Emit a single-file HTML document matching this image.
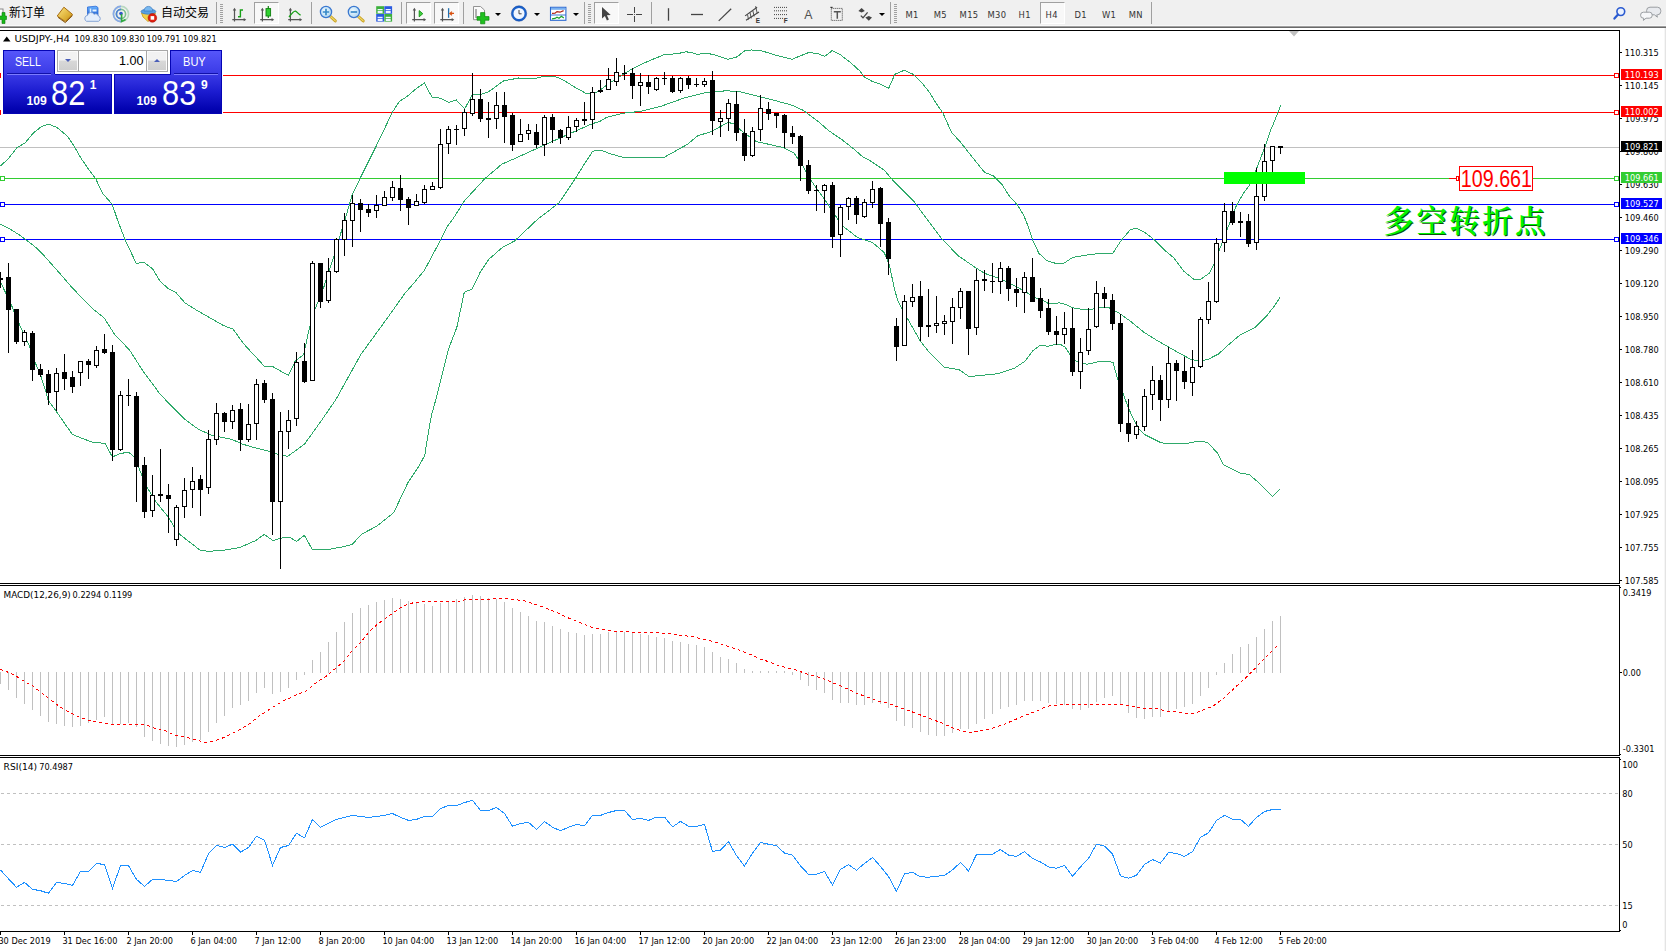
<!DOCTYPE html>
<html><head><meta charset="utf-8"><title>USDJPY H4</title><style>
html,body{margin:0;padding:0;background:#fff}
body{width:1666px;height:951px;overflow:hidden;position:relative;font-family:"Liberation Sans","Noto Sans CJK SC",sans-serif}
#tb{position:absolute;left:0;top:0;width:1666px;height:25px;background:#f0f0f0}
#tb1{position:absolute;left:0;top:25px;width:1666px;height:1px;background:#f8f8f8}
#tb2{position:absolute;left:0;top:26px;width:1666px;height:1px;background:#a0a0a0}
#tb3{position:absolute;left:0;top:27px;width:1666px;height:1px;background:#696969}
.sep{position:absolute;top:2px;width:1px;height:22px;background:#a0a0a0}
.grip{position:absolute;top:4px;width:3px;height:19px;background:repeating-linear-gradient(#a0a0a0 0 1px,#f0f0f0 1px 2px)}
.sel{position:absolute;top:2px;height:22px;border:1px solid #a0a0a0;border-right-color:#fff;border-bottom-color:#fff;background:#f8f8f8;box-sizing:border-box}
.tf{position:absolute;top:10px;font-size:9.3px;color:#333;line-height:10px;white-space:nowrap;letter-spacing:.35px;font-family:"DejaVu Sans Condensed","Liberation Sans",sans-serif}
.cj{position:absolute;top:5px;font-size:12px;line-height:16px;color:#000;white-space:nowrap;font-family:"Liberation Sans","Noto Sans CJK SC",sans-serif}
.ic{position:absolute;top:5px;width:16px;height:16px}
.dd{position:absolute;top:13px;width:0;height:0;border-left:3px solid transparent;border-right:3px solid transparent;border-top:3px solid #000}
.tp{position:absolute;color:#fff}
</style></head><body>
<svg width="1666" height="951" viewBox="0 0 1666 951" style="position:absolute;left:0;top:0" shape-rendering="crispEdges">
<defs><clipPath id="cm"><rect x="0" y="31" width="1619" height="552"/></clipPath></defs>
<rect x="0" y="30" width="1620" height="1" fill="#000" />
<rect x="1619" y="30" width="1" height="554" fill="#000"/>
<rect x="1619" y="585" width="1" height="171" fill="#000"/>
<rect x="1619" y="757" width="1" height="175" fill="#000"/>
<rect x="1620" y="587" width="1" height="1" fill="#000"/>
<rect x="1620" y="754" width="1" height="1" fill="#000"/>
<rect x="1620" y="759" width="1" height="1" fill="#000"/>
<rect x="1665" y="28" width="1" height="923" fill="#e4e4e4"/>
<rect x="1664" y="28" width="1" height="923" fill="#f6f6f6"/>
<rect x="1620" y="930" width="1" height="1" fill="#000"/>
<rect x="0" y="583" width="1620" height="1" fill="#000" />
<rect x="0" y="585" width="1620" height="1" fill="#000" />
<rect x="0" y="755" width="1620" height="1" fill="#000" />
<rect x="0" y="757" width="1620" height="1" fill="#000" />
<rect x="0" y="931" width="1620" height="1" fill="#000" />
<polygon points="1289,31 1299,31 1294,36.5" fill="#c0c0c0" shape-rendering="auto"/>
<rect x="0" y="147" width="1619" height="1" fill="#c0c0c0" />
<rect x="0" y="75" width="1615" height="1" fill="#ff0000" />
<rect x="1614.5" y="73.5" width="4" height="4" fill="#fff" stroke="#ff0000" stroke-width="1"/>
<rect x="0" y="73" width="2" height="5" fill="#ff0000"/>
<rect x="0" y="112" width="1615" height="1" fill="#ff0000" />
<rect x="1614.5" y="110.5" width="4" height="4" fill="#fff" stroke="#ff0000" stroke-width="1"/>
<rect x="0" y="110" width="2" height="5" fill="#ff0000"/>
<rect x="0" y="178" width="1449" height="1" fill="#32cd32" />
<rect x="1533" y="178" width="82" height="1" fill="#32cd32" />
<rect x="1614.5" y="176.5" width="4" height="4" fill="#fff" stroke="#32cd32" stroke-width="1"/>
<rect x="0.5" y="176.5" width="4" height="4" fill="#fff" stroke="#32cd32" stroke-width="1"/>
<rect x="0" y="204" width="1615" height="1" fill="#0000ff" />
<rect x="1614.5" y="202.5" width="4" height="4" fill="#fff" stroke="#0000ff" stroke-width="1"/>
<rect x="0.5" y="202.5" width="4" height="4" fill="#fff" stroke="#0000ff" stroke-width="1"/>
<rect x="0" y="239" width="1615" height="1" fill="#0000ff" />
<rect x="1614.5" y="237.5" width="4" height="4" fill="#fff" stroke="#0000ff" stroke-width="1"/>
<rect x="0.5" y="237.5" width="4" height="4" fill="#fff" stroke="#0000ff" stroke-width="1"/>
<g clip-path="url(#cm)">
<polyline points="0.0,166.3 8.4,158.7 16.8,147.8 25.2,142.7 33.7,132.6 42.0,126.2 48.8,124.2 57.2,127.6 67.3,136.0 74.0,146.1 80.8,157.9 89.0,170.0 95.7,178.7 102.5,193.2 112.2,204.3 117.0,218.4 124.8,239.1 129.6,249.3 136.3,263.5 143.9,262.1 153.1,269.4 159.9,281.1 168.3,288.7 175.8,292.4 185.1,303.0 198.6,311.4 223.8,325.7 233.0,329.1 244.0,344.2 264.2,366.1 272.6,366.4 280.0,370.8 288.5,375.1 295.2,361.2 303.7,354.4 309.5,327.5 315.1,309.0 323.8,287.1 329.2,270.3 333.9,256.0 341.3,231.6 345.2,219.0 352.0,195.5 360.4,177.8 375.5,147.5 392.4,112.2 399.3,101.4 407.0,96.6 414.7,89.8 424.3,83.0 431.9,97.0 441.2,98.4 448.7,102.4 456.3,100.0 464.7,108.8 472.3,95.0 481.5,94.2 488.3,92.0 503.4,81.0 518.6,78.0 535.4,78.5 545.5,76.0 553.9,76.0 562.3,79.4 575.8,87.8 585.9,93.3 592.6,94.2 600.0,90.3 608.5,83.7 632.9,68.4 647.1,61.7 663.5,54.9 677.8,53.6 685.9,51.8 692.0,52.6 697.1,54.3 707.3,53.3 715.5,55.1 727.8,59.4 736.9,56.9 744.8,50.8 751.5,50.0 761.6,50.8 775.1,55.0 791.9,59.3 808.7,52.5 817.2,53.4 824.7,56.4 832.3,50.5 840.7,55.0 850.0,62.1 859.7,70.8 864.5,77.1 872.2,81.4 880.9,84.3 888.7,88.2 895.0,74.2 904.2,70.3 912.9,74.2 921.6,82.4 929.3,92.1 936.1,103.2 942.8,112.9 951.5,132.2 959.8,141.4 982.6,170.0 985.1,172.5 993.5,175.9 1001.9,184.3 1008.6,195.2 1017.1,204.5 1023.8,215.4 1028.8,228.1 1033.0,240.7 1038.9,253.3 1047.3,260.9 1055.8,263.4 1064.2,263.1 1072.6,257.5 1080.0,256.2 1090.0,254.5 1100.0,253.5 1112.6,253.5 1121.9,239.5 1130.3,229.7 1136.2,228.2 1145.4,232.8 1153.9,239.5 1164.0,249.6 1174.0,258.0 1184.1,271.5 1193.4,279.0 1201.0,279.0 1209.4,273.1 1214.4,263.1 1219.5,249.6 1227.9,227.7 1236.3,205.8 1243.0,194.0 1249.8,184.8 1256.5,168.8 1264.9,146.9 1270.0,131.8 1275.0,120.0 1280.6,105.5" fill="none" stroke="#2eaa6a" stroke-width="1" />
<polyline points="0.0,224.2 9.7,229.0 19.3,234.8 27.1,240.6 35.8,247.4 42.6,254.1 55.5,268.5 72.4,287.9 91.7,308.0 104.3,318.1 114.4,334.1 129.6,350.1 143.0,371.2 159.9,393.9 165.7,400.0 175.0,409.3 185.0,419.4 198.6,429.4 212.0,435.3 232.2,439.5 242.3,444.1 255.8,448.0 269.2,451.3 275.0,453.5 280.0,454.7 287.7,456.4 304.5,444.1 320.5,421.9 335.6,400.0 360.9,354.4 387.8,317.4 404.6,293.8 415.3,281.4 424.4,270.3 440.9,239.5 447.7,225.8 452.9,219.0 462.2,204.5 464.7,200.5 484.9,178.6 501.7,164.3 518.6,156.8 543.8,145.3 569.0,134.0 592.6,123.6 600.0,121.4 606.8,117.3 623.7,113.1 640.5,111.4 660.7,106.4 684.2,98.0 704.4,92.9 724.6,90.9 738.1,91.2 751.5,94.6 771.7,99.6 791.9,105.2 803.7,110.6 817.2,120.7 828.9,130.8 842.4,140.0 854.2,149.3 862.6,156.8 870.0,160.7 884.1,170.0 894.2,181.8 901.0,188.5 914.4,202.0 927.9,220.5 941.3,238.1 958.2,255.8 976.7,268.4 985.1,273.5 1001.9,279.4 1015.4,286.1 1028.8,293.7 1038.9,299.6 1044.0,301.0 1049.0,303.8 1059.1,302.9 1065.1,304.2 1073.5,308.0 1086.9,310.0 1098.7,308.0 1108.8,307.6 1118.9,313.0 1130.7,321.4 1144.1,332.4 1157.6,340.8 1169.4,347.5 1181.2,354.2 1191.3,359.6 1199.7,361.0 1208.1,359.3 1218.2,354.2 1228.3,345.0 1240.1,334.9 1255.2,327.3 1267.0,315.5 1275.4,304.6 1280.1,297.0" fill="none" stroke="#2eaa6a" stroke-width="1" />
<polyline points="0.0,281.1 10.9,303.8 18.5,322.4 29.4,345.9 35.3,362.7 41.2,377.0 46.3,393.0 48.0,400.0 56.0,411.0 72.4,434.5 91.7,442.0 105.0,443.4 112.4,456.9 120.3,453.5 128.7,452.2 134.6,457.2 141.3,474.0 148.0,489.0 156.5,502.6 168.3,517.0 174.2,527.0 180.0,534.6 200.2,550.3 208.6,551.4 227.2,549.8 240.0,547.4 255.8,540.5 264.3,534.4 272.8,540.5 284.2,537.4 289.8,537.4 296.5,541.5 304.4,535.3 312.2,549.3 329.3,549.3 345.0,546.4 352.4,544.2 361.7,534.1 376.8,526.2 393.7,512.7 408.0,482.4 418.1,467.3 424.8,455.5 427.3,438.7 431.5,415.1 435.7,400.0 448.4,349.4 456.8,327.5 464.3,292.2 471.9,289.1 480.3,272.0 488.7,259.4 502.2,247.6 514.8,240.8 537.9,219.0 558.9,203.0 575.8,177.8 584.2,164.3 592.6,151.4 596.7,150.5 601.8,150.6 611.9,154.3 623.7,157.4 664.0,157.4 674.1,151.8 687.6,144.2 697.7,135.8 711.2,131.6 728.0,122.4 734.7,124.0 741.4,130.8 756.6,141.7 768.4,144.2 783.5,147.6 793.6,152.6 802.0,164.4 810.1,179.3 825.2,200.3 842.1,225.5 857.2,237.3 872.4,242.4 884.1,252.4 889.2,264.2 894.2,287.8 897.5,300.0 901.9,308.4 910.3,323.6 920.4,341.2 930.5,353.8 943.9,367.0 959.1,369.8 969.2,376.6 981.0,375.4 997.8,373.7 1014.6,368.1 1024.7,361.4 1033.1,350.5 1039.9,345.4 1048.3,346.3 1056.7,344.1 1060.0,344.1 1065.0,347.0 1070.1,354.8 1076.0,361.0 1086.9,364.3 1098.7,361.7 1108.8,361.5 1113.0,362.5 1117.7,379.0 1124.0,396.0 1129.0,409.4 1135.8,423.7 1140.0,430.2 1144.4,434.5 1160.3,442.4 1165.1,443.4 1187.4,443.4 1196.1,441.5 1201.9,441.3 1207.7,442.7 1217.4,452.9 1223.7,465.0 1240.6,473.2 1249.3,474.6 1259.0,482.9 1272.5,496.4 1279.7,489.1" fill="none" stroke="#2eaa6a" stroke-width="1" />
</g>
<g clip-path="url(#cm)">
<rect x="0" y="272" width="1" height="16" fill="#000"/>
<rect x="-2" y="278" width="5" height="2" fill="#000"/>
<rect x="8" y="263" width="1" height="90" fill="#000"/>
<rect x="6" y="277" width="5" height="33" fill="#000"/>
<rect x="16" y="309" width="1" height="35" fill="#000"/>
<rect x="14" y="309" width="5" height="33" fill="#000"/>
<rect x="24" y="330" width="1" height="16" fill="#000"/>
<rect x="22" y="332" width="5" height="10" fill="#000"/>
<rect x="23" y="333" width="3" height="8" fill="#fff"/>
<rect x="32" y="331" width="1" height="50" fill="#000"/>
<rect x="30" y="333" width="5" height="37" fill="#000"/>
<rect x="40" y="364" width="1" height="13" fill="#000"/>
<rect x="38" y="369" width="5" height="6" fill="#000"/>
<rect x="48" y="370" width="1" height="35" fill="#000"/>
<rect x="46" y="374" width="5" height="19" fill="#000"/>
<rect x="56" y="368" width="1" height="43" fill="#000"/>
<rect x="54" y="373" width="5" height="19" fill="#000"/>
<rect x="55" y="374" width="3" height="17" fill="#fff"/>
<rect x="64" y="354" width="1" height="36" fill="#000"/>
<rect x="62" y="372" width="5" height="7" fill="#000"/>
<rect x="72" y="371" width="1" height="22" fill="#000"/>
<rect x="70" y="377" width="5" height="10" fill="#000"/>
<rect x="80" y="361" width="1" height="25" fill="#000"/>
<rect x="78" y="361" width="5" height="12" fill="#000"/>
<rect x="79" y="362" width="3" height="10" fill="#fff"/>
<rect x="88" y="359" width="1" height="20" fill="#000"/>
<rect x="86" y="361" width="5" height="4" fill="#000"/>
<rect x="96" y="346" width="1" height="22" fill="#000"/>
<rect x="94" y="350" width="5" height="16" fill="#000"/>
<rect x="95" y="351" width="3" height="14" fill="#fff"/>
<rect x="104" y="334" width="1" height="20" fill="#000"/>
<rect x="102" y="349" width="5" height="4" fill="#000"/>
<rect x="112" y="345" width="1" height="116" fill="#000"/>
<rect x="110" y="352" width="5" height="98" fill="#000"/>
<rect x="120" y="391" width="1" height="60" fill="#000"/>
<rect x="118" y="395" width="5" height="55" fill="#000"/>
<rect x="119" y="396" width="3" height="53" fill="#fff"/>
<rect x="128" y="379" width="1" height="27" fill="#000"/>
<rect x="126" y="395" width="5" height="1" fill="#000"/>
<rect x="136" y="392" width="1" height="110" fill="#000"/>
<rect x="134" y="396" width="5" height="71" fill="#000"/>
<rect x="144" y="457" width="1" height="61" fill="#000"/>
<rect x="142" y="465" width="5" height="47" fill="#000"/>
<rect x="152" y="475" width="1" height="42" fill="#000"/>
<rect x="150" y="495" width="5" height="16" fill="#000"/>
<rect x="151" y="496" width="3" height="14" fill="#fff"/>
<rect x="160" y="449" width="1" height="53" fill="#000"/>
<rect x="158" y="494" width="5" height="2" fill="#000"/>
<rect x="168" y="484" width="1" height="49" fill="#000"/>
<rect x="166" y="495" width="5" height="4" fill="#000"/>
<rect x="176" y="505" width="1" height="41" fill="#000"/>
<rect x="174" y="507" width="5" height="33" fill="#000"/>
<rect x="175" y="508" width="3" height="31" fill="#fff"/>
<rect x="184" y="478" width="1" height="40" fill="#000"/>
<rect x="182" y="490" width="5" height="17" fill="#000"/>
<rect x="183" y="491" width="3" height="15" fill="#fff"/>
<rect x="192" y="467" width="1" height="41" fill="#000"/>
<rect x="190" y="481" width="5" height="9" fill="#000"/>
<rect x="191" y="482" width="3" height="7" fill="#fff"/>
<rect x="200" y="475" width="1" height="41" fill="#000"/>
<rect x="198" y="479" width="5" height="11" fill="#000"/>
<rect x="208" y="430" width="1" height="64" fill="#000"/>
<rect x="206" y="439" width="5" height="49" fill="#000"/>
<rect x="207" y="440" width="3" height="47" fill="#fff"/>
<rect x="216" y="403" width="1" height="42" fill="#000"/>
<rect x="214" y="413" width="5" height="27" fill="#000"/>
<rect x="215" y="414" width="3" height="25" fill="#fff"/>
<rect x="224" y="412" width="1" height="20" fill="#000"/>
<rect x="222" y="413" width="5" height="9" fill="#000"/>
<rect x="232" y="405" width="1" height="24" fill="#000"/>
<rect x="230" y="410" width="5" height="12" fill="#000"/>
<rect x="231" y="411" width="3" height="10" fill="#fff"/>
<rect x="240" y="403" width="1" height="48" fill="#000"/>
<rect x="238" y="409" width="5" height="31" fill="#000"/>
<rect x="248" y="404" width="1" height="38" fill="#000"/>
<rect x="246" y="424" width="5" height="16" fill="#000"/>
<rect x="247" y="425" width="3" height="14" fill="#fff"/>
<rect x="256" y="379" width="1" height="61" fill="#000"/>
<rect x="254" y="384" width="5" height="40" fill="#000"/>
<rect x="255" y="385" width="3" height="38" fill="#fff"/>
<rect x="264" y="380" width="1" height="23" fill="#000"/>
<rect x="262" y="383" width="5" height="17" fill="#000"/>
<rect x="272" y="393" width="1" height="142" fill="#000"/>
<rect x="270" y="399" width="5" height="103" fill="#000"/>
<rect x="280" y="412" width="1" height="157" fill="#000"/>
<rect x="278" y="431" width="5" height="71" fill="#000"/>
<rect x="279" y="432" width="3" height="69" fill="#fff"/>
<rect x="288" y="410" width="1" height="39" fill="#000"/>
<rect x="286" y="420" width="5" height="12" fill="#000"/>
<rect x="287" y="421" width="3" height="10" fill="#fff"/>
<rect x="296" y="352" width="1" height="74" fill="#000"/>
<rect x="294" y="362" width="5" height="57" fill="#000"/>
<rect x="295" y="363" width="3" height="55" fill="#fff"/>
<rect x="304" y="343" width="1" height="40" fill="#000"/>
<rect x="302" y="361" width="5" height="21" fill="#000"/>
<rect x="312" y="261" width="1" height="120" fill="#000"/>
<rect x="310" y="263" width="5" height="118" fill="#000"/>
<rect x="311" y="264" width="3" height="116" fill="#fff"/>
<rect x="320" y="263" width="1" height="45" fill="#000"/>
<rect x="318" y="263" width="5" height="39" fill="#000"/>
<rect x="328" y="258" width="1" height="45" fill="#000"/>
<rect x="326" y="271" width="5" height="30" fill="#000"/>
<rect x="327" y="272" width="3" height="28" fill="#fff"/>
<rect x="336" y="238" width="1" height="35" fill="#000"/>
<rect x="334" y="239" width="5" height="33" fill="#000"/>
<rect x="335" y="240" width="3" height="31" fill="#fff"/>
<rect x="344" y="213" width="1" height="43" fill="#000"/>
<rect x="342" y="220" width="5" height="20" fill="#000"/>
<rect x="343" y="221" width="3" height="18" fill="#fff"/>
<rect x="352" y="195" width="1" height="52" fill="#000"/>
<rect x="350" y="203" width="5" height="18" fill="#000"/>
<rect x="351" y="204" width="3" height="16" fill="#fff"/>
<rect x="360" y="199" width="1" height="33" fill="#000"/>
<rect x="358" y="203" width="5" height="7" fill="#000"/>
<rect x="368" y="204" width="1" height="13" fill="#000"/>
<rect x="366" y="209" width="5" height="4" fill="#000"/>
<rect x="376" y="195" width="1" height="23" fill="#000"/>
<rect x="374" y="205" width="5" height="6" fill="#000"/>
<rect x="375" y="206" width="3" height="4" fill="#fff"/>
<rect x="384" y="191" width="1" height="15" fill="#000"/>
<rect x="382" y="197" width="5" height="9" fill="#000"/>
<rect x="383" y="198" width="3" height="7" fill="#fff"/>
<rect x="392" y="181" width="1" height="20" fill="#000"/>
<rect x="390" y="187" width="5" height="11" fill="#000"/>
<rect x="391" y="188" width="3" height="9" fill="#fff"/>
<rect x="400" y="175" width="1" height="36" fill="#000"/>
<rect x="398" y="188" width="5" height="12" fill="#000"/>
<rect x="408" y="197" width="1" height="28" fill="#000"/>
<rect x="406" y="199" width="5" height="9" fill="#000"/>
<rect x="416" y="194" width="1" height="12" fill="#000"/>
<rect x="414" y="201" width="5" height="5" fill="#000"/>
<rect x="415" y="202" width="3" height="3" fill="#fff"/>
<rect x="424" y="185" width="1" height="19" fill="#000"/>
<rect x="422" y="189" width="5" height="14" fill="#000"/>
<rect x="423" y="190" width="3" height="12" fill="#fff"/>
<rect x="432" y="182" width="1" height="8" fill="#000"/>
<rect x="430" y="186" width="5" height="4" fill="#000"/>
<rect x="431" y="187" width="3" height="2" fill="#fff"/>
<rect x="440" y="129" width="1" height="60" fill="#000"/>
<rect x="438" y="144" width="5" height="44" fill="#000"/>
<rect x="439" y="145" width="3" height="42" fill="#fff"/>
<rect x="448" y="126" width="1" height="28" fill="#000"/>
<rect x="446" y="129" width="5" height="15" fill="#000"/>
<rect x="447" y="130" width="3" height="13" fill="#fff"/>
<rect x="456" y="125" width="1" height="20" fill="#000"/>
<rect x="454" y="129" width="5" height="1" fill="#000"/>
<rect x="464" y="109" width="1" height="27" fill="#000"/>
<rect x="462" y="112" width="5" height="17" fill="#000"/>
<rect x="463" y="113" width="3" height="15" fill="#fff"/>
<rect x="472" y="73" width="1" height="43" fill="#000"/>
<rect x="470" y="99" width="5" height="15" fill="#000"/>
<rect x="471" y="100" width="3" height="13" fill="#fff"/>
<rect x="480" y="89" width="1" height="33" fill="#000"/>
<rect x="478" y="99" width="5" height="20" fill="#000"/>
<rect x="488" y="102" width="1" height="36" fill="#000"/>
<rect x="486" y="118" width="5" height="2" fill="#000"/>
<rect x="496" y="92" width="1" height="37" fill="#000"/>
<rect x="494" y="105" width="5" height="14" fill="#000"/>
<rect x="495" y="106" width="3" height="12" fill="#fff"/>
<rect x="504" y="92" width="1" height="51" fill="#000"/>
<rect x="502" y="105" width="5" height="12" fill="#000"/>
<rect x="512" y="113" width="1" height="38" fill="#000"/>
<rect x="510" y="115" width="5" height="30" fill="#000"/>
<rect x="520" y="119" width="1" height="23" fill="#000"/>
<rect x="518" y="134" width="5" height="8" fill="#000"/>
<rect x="519" y="135" width="3" height="6" fill="#fff"/>
<rect x="528" y="124" width="1" height="16" fill="#000"/>
<rect x="526" y="130" width="5" height="4" fill="#000"/>
<rect x="527" y="131" width="3" height="2" fill="#fff"/>
<rect x="536" y="124" width="1" height="24" fill="#000"/>
<rect x="534" y="132" width="5" height="13" fill="#000"/>
<rect x="544" y="115" width="1" height="41" fill="#000"/>
<rect x="542" y="117" width="5" height="28" fill="#000"/>
<rect x="543" y="118" width="3" height="26" fill="#fff"/>
<rect x="552" y="114" width="1" height="29" fill="#000"/>
<rect x="550" y="117" width="5" height="13" fill="#000"/>
<rect x="560" y="129" width="1" height="15" fill="#000"/>
<rect x="558" y="130" width="5" height="8" fill="#000"/>
<rect x="568" y="116" width="1" height="24" fill="#000"/>
<rect x="566" y="127" width="5" height="11" fill="#000"/>
<rect x="567" y="128" width="3" height="9" fill="#fff"/>
<rect x="576" y="118" width="1" height="14" fill="#000"/>
<rect x="574" y="120" width="5" height="7" fill="#000"/>
<rect x="575" y="121" width="3" height="5" fill="#fff"/>
<rect x="584" y="102" width="1" height="23" fill="#000"/>
<rect x="582" y="119" width="5" height="2" fill="#000"/>
<rect x="592" y="87" width="1" height="42" fill="#000"/>
<rect x="590" y="92" width="5" height="28" fill="#000"/>
<rect x="591" y="93" width="3" height="26" fill="#fff"/>
<rect x="600" y="80" width="1" height="13" fill="#000"/>
<rect x="598" y="90" width="5" height="2" fill="#000"/>
<rect x="608" y="68" width="1" height="22" fill="#000"/>
<rect x="606" y="79" width="5" height="11" fill="#000"/>
<rect x="607" y="80" width="3" height="9" fill="#fff"/>
<rect x="616" y="58" width="1" height="28" fill="#000"/>
<rect x="614" y="72" width="5" height="10" fill="#000"/>
<rect x="615" y="73" width="3" height="8" fill="#fff"/>
<rect x="624" y="65" width="1" height="15" fill="#000"/>
<rect x="622" y="73" width="5" height="1" fill="#000"/>
<rect x="632" y="68" width="1" height="31" fill="#000"/>
<rect x="630" y="73" width="5" height="13" fill="#000"/>
<rect x="640" y="73" width="1" height="33" fill="#000"/>
<rect x="638" y="82" width="5" height="4" fill="#000"/>
<rect x="639" y="83" width="3" height="2" fill="#fff"/>
<rect x="648" y="75" width="1" height="19" fill="#000"/>
<rect x="646" y="82" width="5" height="5" fill="#000"/>
<rect x="656" y="77" width="1" height="14" fill="#000"/>
<rect x="654" y="78" width="5" height="12" fill="#000"/>
<rect x="655" y="79" width="3" height="10" fill="#fff"/>
<rect x="664" y="72" width="1" height="13" fill="#000"/>
<rect x="662" y="78" width="5" height="1" fill="#000"/>
<rect x="672" y="76" width="1" height="17" fill="#000"/>
<rect x="670" y="78" width="5" height="14" fill="#000"/>
<rect x="680" y="77" width="1" height="16" fill="#000"/>
<rect x="678" y="78" width="5" height="13" fill="#000"/>
<rect x="679" y="79" width="3" height="11" fill="#fff"/>
<rect x="688" y="76" width="1" height="13" fill="#000"/>
<rect x="686" y="78" width="5" height="7" fill="#000"/>
<rect x="696" y="78" width="1" height="9" fill="#000"/>
<rect x="694" y="84" width="5" height="1" fill="#000"/>
<rect x="704" y="78" width="1" height="9" fill="#000"/>
<rect x="702" y="81" width="5" height="4" fill="#000"/>
<rect x="703" y="82" width="3" height="2" fill="#fff"/>
<rect x="712" y="71" width="1" height="64" fill="#000"/>
<rect x="710" y="80" width="5" height="41" fill="#000"/>
<rect x="720" y="110" width="1" height="27" fill="#000"/>
<rect x="718" y="118" width="5" height="4" fill="#000"/>
<rect x="719" y="119" width="3" height="2" fill="#fff"/>
<rect x="728" y="99" width="1" height="32" fill="#000"/>
<rect x="726" y="103" width="5" height="16" fill="#000"/>
<rect x="727" y="104" width="3" height="14" fill="#fff"/>
<rect x="736" y="91" width="1" height="50" fill="#000"/>
<rect x="734" y="104" width="5" height="29" fill="#000"/>
<rect x="744" y="119" width="1" height="42" fill="#000"/>
<rect x="742" y="133" width="5" height="23" fill="#000"/>
<rect x="752" y="127" width="1" height="30" fill="#000"/>
<rect x="750" y="131" width="5" height="25" fill="#000"/>
<rect x="751" y="132" width="3" height="23" fill="#fff"/>
<rect x="760" y="95" width="1" height="46" fill="#000"/>
<rect x="758" y="108" width="5" height="22" fill="#000"/>
<rect x="759" y="109" width="3" height="20" fill="#fff"/>
<rect x="768" y="102" width="1" height="18" fill="#000"/>
<rect x="766" y="109" width="5" height="5" fill="#000"/>
<rect x="776" y="113" width="1" height="15" fill="#000"/>
<rect x="774" y="113" width="5" height="3" fill="#000"/>
<rect x="784" y="114" width="1" height="34" fill="#000"/>
<rect x="782" y="115" width="5" height="18" fill="#000"/>
<rect x="792" y="126" width="1" height="18" fill="#000"/>
<rect x="790" y="133" width="5" height="4" fill="#000"/>
<rect x="800" y="135" width="1" height="46" fill="#000"/>
<rect x="798" y="136" width="5" height="30" fill="#000"/>
<rect x="808" y="160" width="1" height="34" fill="#000"/>
<rect x="806" y="165" width="5" height="26" fill="#000"/>
<rect x="816" y="185" width="1" height="26" fill="#000"/>
<rect x="814" y="190" width="5" height="1" fill="#000"/>
<rect x="824" y="184" width="1" height="29" fill="#000"/>
<rect x="822" y="185" width="5" height="6" fill="#000"/>
<rect x="823" y="186" width="3" height="4" fill="#fff"/>
<rect x="832" y="182" width="1" height="66" fill="#000"/>
<rect x="830" y="185" width="5" height="52" fill="#000"/>
<rect x="840" y="205" width="1" height="52" fill="#000"/>
<rect x="838" y="207" width="5" height="28" fill="#000"/>
<rect x="839" y="208" width="3" height="26" fill="#fff"/>
<rect x="848" y="197" width="1" height="23" fill="#000"/>
<rect x="846" y="198" width="5" height="9" fill="#000"/>
<rect x="847" y="199" width="3" height="7" fill="#fff"/>
<rect x="856" y="196" width="1" height="28" fill="#000"/>
<rect x="854" y="198" width="5" height="17" fill="#000"/>
<rect x="864" y="199" width="1" height="19" fill="#000"/>
<rect x="862" y="202" width="5" height="15" fill="#000"/>
<rect x="863" y="203" width="3" height="13" fill="#fff"/>
<rect x="872" y="181" width="1" height="27" fill="#000"/>
<rect x="870" y="189" width="5" height="14" fill="#000"/>
<rect x="871" y="190" width="3" height="12" fill="#fff"/>
<rect x="880" y="187" width="1" height="60" fill="#000"/>
<rect x="878" y="188" width="5" height="36" fill="#000"/>
<rect x="888" y="218" width="1" height="57" fill="#000"/>
<rect x="886" y="222" width="5" height="37" fill="#000"/>
<rect x="896" y="318" width="1" height="43" fill="#000"/>
<rect x="894" y="326" width="5" height="21" fill="#000"/>
<rect x="904" y="295" width="1" height="51" fill="#000"/>
<rect x="902" y="301" width="5" height="45" fill="#000"/>
<rect x="903" y="302" width="3" height="43" fill="#fff"/>
<rect x="912" y="284" width="1" height="23" fill="#000"/>
<rect x="910" y="297" width="5" height="5" fill="#000"/>
<rect x="911" y="298" width="3" height="3" fill="#fff"/>
<rect x="920" y="281" width="1" height="60" fill="#000"/>
<rect x="918" y="296" width="5" height="31" fill="#000"/>
<rect x="928" y="289" width="1" height="48" fill="#000"/>
<rect x="926" y="325" width="5" height="2" fill="#000"/>
<rect x="936" y="296" width="1" height="37" fill="#000"/>
<rect x="934" y="323" width="5" height="3" fill="#000"/>
<rect x="935" y="324" width="3" height="1" fill="#fff"/>
<rect x="944" y="315" width="1" height="20" fill="#000"/>
<rect x="942" y="321" width="5" height="3" fill="#000"/>
<rect x="943" y="322" width="3" height="1" fill="#fff"/>
<rect x="952" y="298" width="1" height="46" fill="#000"/>
<rect x="950" y="307" width="5" height="15" fill="#000"/>
<rect x="951" y="308" width="3" height="13" fill="#fff"/>
<rect x="960" y="288" width="1" height="31" fill="#000"/>
<rect x="958" y="291" width="5" height="17" fill="#000"/>
<rect x="959" y="292" width="3" height="15" fill="#fff"/>
<rect x="968" y="291" width="1" height="64" fill="#000"/>
<rect x="966" y="291" width="5" height="38" fill="#000"/>
<rect x="976" y="269" width="1" height="66" fill="#000"/>
<rect x="974" y="280" width="5" height="48" fill="#000"/>
<rect x="975" y="281" width="3" height="46" fill="#fff"/>
<rect x="984" y="270" width="1" height="21" fill="#000"/>
<rect x="982" y="279" width="5" height="2" fill="#000"/>
<rect x="992" y="263" width="1" height="30" fill="#000"/>
<rect x="990" y="281" width="5" height="1" fill="#000"/>
<rect x="1000" y="262" width="1" height="32" fill="#000"/>
<rect x="998" y="268" width="5" height="14" fill="#000"/>
<rect x="999" y="269" width="3" height="12" fill="#fff"/>
<rect x="1008" y="266" width="1" height="35" fill="#000"/>
<rect x="1006" y="268" width="5" height="21" fill="#000"/>
<rect x="1016" y="278" width="1" height="29" fill="#000"/>
<rect x="1014" y="289" width="5" height="4" fill="#000"/>
<rect x="1024" y="272" width="1" height="41" fill="#000"/>
<rect x="1022" y="277" width="5" height="16" fill="#000"/>
<rect x="1023" y="278" width="3" height="14" fill="#fff"/>
<rect x="1032" y="258" width="1" height="44" fill="#000"/>
<rect x="1030" y="277" width="5" height="25" fill="#000"/>
<rect x="1040" y="288" width="1" height="30" fill="#000"/>
<rect x="1038" y="298" width="5" height="13" fill="#000"/>
<rect x="1048" y="299" width="1" height="36" fill="#000"/>
<rect x="1046" y="308" width="5" height="24" fill="#000"/>
<rect x="1056" y="316" width="1" height="29" fill="#000"/>
<rect x="1054" y="331" width="5" height="4" fill="#000"/>
<rect x="1064" y="312" width="1" height="32" fill="#000"/>
<rect x="1062" y="328" width="5" height="7" fill="#000"/>
<rect x="1063" y="329" width="3" height="5" fill="#fff"/>
<rect x="1072" y="308" width="1" height="68" fill="#000"/>
<rect x="1070" y="328" width="5" height="44" fill="#000"/>
<rect x="1080" y="338" width="1" height="51" fill="#000"/>
<rect x="1078" y="352" width="5" height="20" fill="#000"/>
<rect x="1079" y="353" width="3" height="18" fill="#fff"/>
<rect x="1088" y="308" width="1" height="47" fill="#000"/>
<rect x="1086" y="329" width="5" height="22" fill="#000"/>
<rect x="1087" y="330" width="3" height="20" fill="#fff"/>
<rect x="1096" y="281" width="1" height="47" fill="#000"/>
<rect x="1094" y="293" width="5" height="34" fill="#000"/>
<rect x="1095" y="294" width="3" height="32" fill="#fff"/>
<rect x="1104" y="287" width="1" height="21" fill="#000"/>
<rect x="1102" y="293" width="5" height="6" fill="#000"/>
<rect x="1112" y="294" width="1" height="36" fill="#000"/>
<rect x="1110" y="300" width="5" height="24" fill="#000"/>
<rect x="1120" y="314" width="1" height="118" fill="#000"/>
<rect x="1118" y="323" width="5" height="101" fill="#000"/>
<rect x="1128" y="399" width="1" height="43" fill="#000"/>
<rect x="1126" y="423" width="5" height="11" fill="#000"/>
<rect x="1136" y="421" width="1" height="18" fill="#000"/>
<rect x="1134" y="426" width="5" height="9" fill="#000"/>
<rect x="1135" y="427" width="3" height="7" fill="#fff"/>
<rect x="1144" y="389" width="1" height="42" fill="#000"/>
<rect x="1142" y="396" width="5" height="31" fill="#000"/>
<rect x="1143" y="397" width="3" height="29" fill="#fff"/>
<rect x="1152" y="366" width="1" height="44" fill="#000"/>
<rect x="1150" y="380" width="5" height="15" fill="#000"/>
<rect x="1151" y="381" width="3" height="13" fill="#fff"/>
<rect x="1160" y="375" width="1" height="46" fill="#000"/>
<rect x="1158" y="380" width="5" height="20" fill="#000"/>
<rect x="1168" y="347" width="1" height="61" fill="#000"/>
<rect x="1166" y="363" width="5" height="37" fill="#000"/>
<rect x="1167" y="364" width="3" height="35" fill="#fff"/>
<rect x="1176" y="360" width="1" height="41" fill="#000"/>
<rect x="1174" y="363" width="5" height="8" fill="#000"/>
<rect x="1184" y="357" width="1" height="32" fill="#000"/>
<rect x="1182" y="371" width="5" height="11" fill="#000"/>
<rect x="1192" y="350" width="1" height="46" fill="#000"/>
<rect x="1190" y="367" width="5" height="16" fill="#000"/>
<rect x="1191" y="368" width="3" height="14" fill="#fff"/>
<rect x="1200" y="317" width="1" height="51" fill="#000"/>
<rect x="1198" y="319" width="5" height="48" fill="#000"/>
<rect x="1199" y="320" width="3" height="46" fill="#fff"/>
<rect x="1208" y="282" width="1" height="42" fill="#000"/>
<rect x="1206" y="301" width="5" height="19" fill="#000"/>
<rect x="1207" y="302" width="3" height="17" fill="#fff"/>
<rect x="1216" y="238" width="1" height="65" fill="#000"/>
<rect x="1214" y="243" width="5" height="59" fill="#000"/>
<rect x="1215" y="244" width="3" height="57" fill="#fff"/>
<rect x="1224" y="203" width="1" height="49" fill="#000"/>
<rect x="1222" y="211" width="5" height="32" fill="#000"/>
<rect x="1223" y="212" width="3" height="30" fill="#fff"/>
<rect x="1232" y="202" width="1" height="23" fill="#000"/>
<rect x="1230" y="211" width="5" height="12" fill="#000"/>
<rect x="1240" y="212" width="1" height="25" fill="#000"/>
<rect x="1238" y="221" width="5" height="2" fill="#000"/>
<rect x="1248" y="214" width="1" height="33" fill="#000"/>
<rect x="1246" y="221" width="5" height="23" fill="#000"/>
<rect x="1256" y="168" width="1" height="82" fill="#000"/>
<rect x="1254" y="196" width="5" height="47" fill="#000"/>
<rect x="1255" y="197" width="3" height="45" fill="#fff"/>
<rect x="1264" y="144" width="1" height="57" fill="#000"/>
<rect x="1262" y="161" width="5" height="36" fill="#000"/>
<rect x="1263" y="162" width="3" height="34" fill="#fff"/>
<rect x="1272" y="146" width="1" height="29" fill="#000"/>
<rect x="1270" y="146" width="5" height="15" fill="#000"/>
<rect x="1271" y="147" width="3" height="13" fill="#fff"/>
<rect x="1280" y="146" width="1" height="8" fill="#000"/>
<rect x="1278" y="146" width="5" height="2" fill="#000"/>
</g>
<rect x="1224" y="172" width="81" height="12" fill="#00ff00"/>
<rect x="1449" y="178" width="7" height="1" fill="#ff0000" />
<rect x="1456.5" y="176.5" width="2" height="4" fill="#fff" stroke="#ff0000" stroke-width="1"/>
<rect x="1459.5" y="166.5" width="73" height="24" fill="#fff" stroke="#ff0000" stroke-width="1"/>
<text x="1496.4" y="187" font-family="Liberation Sans, sans-serif" font-size="23.4" fill="#ff0000" text-anchor="middle" textLength="71.3" lengthAdjust="spacingAndGlyphs">109.661</text>
<text x="1383.5" y="232" font-family="Liberation Serif, Noto Serif CJK SC, Noto Sans CJK SC, serif" font-weight="600" font-size="30.5" fill="#00f400" style="text-shadow:1px 1px 0 #0a500a" textLength="162" lengthAdjust="spacing">多空转折点</text>
<rect x="1620" y="52" width="2" height="1" fill="#000" />
<text x="1624.8" y="56" font-family="DejaVu Sans Condensed, Liberation Sans, sans-serif" font-size="9.1" fill="#000" >110.315</text>
<rect x="1620" y="85" width="2" height="1" fill="#000" />
<text x="1624.8" y="89" font-family="DejaVu Sans Condensed, Liberation Sans, sans-serif" font-size="9.1" fill="#000" >110.145</text>
<rect x="1620" y="118" width="2" height="1" fill="#000" />
<text x="1624.8" y="122" font-family="DejaVu Sans Condensed, Liberation Sans, sans-serif" font-size="9.1" fill="#000" >109.975</text>
<rect x="1620" y="151" width="2" height="1" fill="#000" />
<text x="1624.8" y="155" font-family="DejaVu Sans Condensed, Liberation Sans, sans-serif" font-size="9.1" fill="#000" >109.800</text>
<rect x="1620" y="184" width="2" height="1" fill="#000" />
<text x="1624.8" y="188" font-family="DejaVu Sans Condensed, Liberation Sans, sans-serif" font-size="9.1" fill="#000" >109.630</text>
<rect x="1620" y="217" width="2" height="1" fill="#000" />
<text x="1624.8" y="221" font-family="DejaVu Sans Condensed, Liberation Sans, sans-serif" font-size="9.1" fill="#000" >109.460</text>
<rect x="1620" y="250" width="2" height="1" fill="#000" />
<text x="1624.8" y="254" font-family="DejaVu Sans Condensed, Liberation Sans, sans-serif" font-size="9.1" fill="#000" >109.290</text>
<rect x="1620" y="283" width="2" height="1" fill="#000" />
<text x="1624.8" y="287" font-family="DejaVu Sans Condensed, Liberation Sans, sans-serif" font-size="9.1" fill="#000" >109.120</text>
<rect x="1620" y="316" width="2" height="1" fill="#000" />
<text x="1624.8" y="320" font-family="DejaVu Sans Condensed, Liberation Sans, sans-serif" font-size="9.1" fill="#000" >108.950</text>
<rect x="1620" y="349" width="2" height="1" fill="#000" />
<text x="1624.8" y="353" font-family="DejaVu Sans Condensed, Liberation Sans, sans-serif" font-size="9.1" fill="#000" >108.780</text>
<rect x="1620" y="382" width="2" height="1" fill="#000" />
<text x="1624.8" y="386" font-family="DejaVu Sans Condensed, Liberation Sans, sans-serif" font-size="9.1" fill="#000" >108.610</text>
<rect x="1620" y="415" width="2" height="1" fill="#000" />
<text x="1624.8" y="419" font-family="DejaVu Sans Condensed, Liberation Sans, sans-serif" font-size="9.1" fill="#000" >108.435</text>
<rect x="1620" y="448" width="2" height="1" fill="#000" />
<text x="1624.8" y="452" font-family="DejaVu Sans Condensed, Liberation Sans, sans-serif" font-size="9.1" fill="#000" >108.265</text>
<rect x="1620" y="481" width="2" height="1" fill="#000" />
<text x="1624.8" y="485" font-family="DejaVu Sans Condensed, Liberation Sans, sans-serif" font-size="9.1" fill="#000" >108.095</text>
<rect x="1620" y="514" width="2" height="1" fill="#000" />
<text x="1624.8" y="518" font-family="DejaVu Sans Condensed, Liberation Sans, sans-serif" font-size="9.1" fill="#000" >107.925</text>
<rect x="1620" y="547" width="2" height="1" fill="#000" />
<text x="1624.8" y="551" font-family="DejaVu Sans Condensed, Liberation Sans, sans-serif" font-size="9.1" fill="#000" >107.755</text>
<rect x="1620" y="580" width="2" height="1" fill="#000" />
<text x="1624.8" y="584" font-family="DejaVu Sans Condensed, Liberation Sans, sans-serif" font-size="9.1" fill="#000" >107.585</text>
<rect x="1621" y="69" width="41" height="11" fill="#ff0000"/>
<text x="1624.8" y="78" font-family="DejaVu Sans Condensed, Liberation Sans, sans-serif" font-size="9.1" fill="#fff" >110.193</text>
<rect x="1621" y="106" width="41" height="11" fill="#ff0000"/>
<text x="1624.8" y="115" font-family="DejaVu Sans Condensed, Liberation Sans, sans-serif" font-size="9.1" fill="#fff" >110.002</text>
<rect x="1621" y="141" width="41" height="11" fill="#000"/>
<text x="1624.8" y="150" font-family="DejaVu Sans Condensed, Liberation Sans, sans-serif" font-size="9.1" fill="#fff" >109.821</text>
<rect x="1621" y="172" width="41" height="11" fill="#32cd32"/>
<text x="1624.8" y="181" font-family="DejaVu Sans Condensed, Liberation Sans, sans-serif" font-size="9.1" fill="#fff" >109.661</text>
<rect x="1621" y="198" width="41" height="11" fill="#0000ff"/>
<text x="1624.8" y="207" font-family="DejaVu Sans Condensed, Liberation Sans, sans-serif" font-size="9.1" fill="#fff" >109.527</text>
<rect x="1621" y="233" width="41" height="11" fill="#0000ff"/>
<text x="1624.8" y="242" font-family="DejaVu Sans Condensed, Liberation Sans, sans-serif" font-size="9.1" fill="#fff" >109.346</text>
<rect x="0" y="672" width="1" height="12" fill="#c0c0c0"/>
<rect x="8" y="672" width="1" height="18" fill="#c0c0c0"/>
<rect x="16" y="672" width="1" height="26" fill="#c0c0c0"/>
<rect x="24" y="672" width="1" height="32" fill="#c0c0c0"/>
<rect x="32" y="672" width="1" height="38" fill="#c0c0c0"/>
<rect x="40" y="672" width="1" height="44" fill="#c0c0c0"/>
<rect x="48" y="672" width="1" height="50" fill="#c0c0c0"/>
<rect x="56" y="672" width="1" height="52" fill="#c0c0c0"/>
<rect x="64" y="672" width="1" height="54" fill="#c0c0c0"/>
<rect x="72" y="672" width="1" height="55" fill="#c0c0c0"/>
<rect x="80" y="672" width="1" height="54" fill="#c0c0c0"/>
<rect x="88" y="672" width="1" height="51" fill="#c0c0c0"/>
<rect x="96" y="672" width="1" height="48" fill="#c0c0c0"/>
<rect x="104" y="672" width="1" height="45" fill="#c0c0c0"/>
<rect x="112" y="672" width="1" height="52" fill="#c0c0c0"/>
<rect x="120" y="672" width="1" height="52" fill="#c0c0c0"/>
<rect x="128" y="672" width="1" height="51" fill="#c0c0c0"/>
<rect x="136" y="672" width="1" height="55" fill="#c0c0c0"/>
<rect x="144" y="672" width="1" height="65" fill="#c0c0c0"/>
<rect x="152" y="672" width="1" height="69" fill="#c0c0c0"/>
<rect x="160" y="672" width="1" height="72" fill="#c0c0c0"/>
<rect x="168" y="672" width="1" height="74" fill="#c0c0c0"/>
<rect x="176" y="672" width="1" height="75" fill="#c0c0c0"/>
<rect x="184" y="672" width="1" height="73" fill="#c0c0c0"/>
<rect x="192" y="672" width="1" height="70" fill="#c0c0c0"/>
<rect x="200" y="672" width="1" height="68" fill="#c0c0c0"/>
<rect x="208" y="672" width="1" height="60" fill="#c0c0c0"/>
<rect x="216" y="672" width="1" height="51" fill="#c0c0c0"/>
<rect x="224" y="672" width="1" height="44" fill="#c0c0c0"/>
<rect x="232" y="672" width="1" height="36" fill="#c0c0c0"/>
<rect x="240" y="672" width="1" height="33" fill="#c0c0c0"/>
<rect x="248" y="672" width="1" height="29" fill="#c0c0c0"/>
<rect x="256" y="672" width="1" height="21" fill="#c0c0c0"/>
<rect x="264" y="672" width="1" height="16" fill="#c0c0c0"/>
<rect x="272" y="672" width="1" height="22" fill="#c0c0c0"/>
<rect x="280" y="672" width="1" height="20" fill="#c0c0c0"/>
<rect x="288" y="672" width="1" height="16" fill="#c0c0c0"/>
<rect x="296" y="672" width="1" height="8" fill="#c0c0c0"/>
<rect x="304" y="672" width="1" height="3" fill="#c0c0c0"/>
<rect x="312" y="660" width="1" height="13" fill="#c0c0c0"/>
<rect x="320" y="652" width="1" height="21" fill="#c0c0c0"/>
<rect x="328" y="642" width="1" height="31" fill="#c0c0c0"/>
<rect x="336" y="632" width="1" height="41" fill="#c0c0c0"/>
<rect x="344" y="622" width="1" height="51" fill="#c0c0c0"/>
<rect x="352" y="613" width="1" height="60" fill="#c0c0c0"/>
<rect x="360" y="608" width="1" height="65" fill="#c0c0c0"/>
<rect x="368" y="605" width="1" height="68" fill="#c0c0c0"/>
<rect x="376" y="602" width="1" height="71" fill="#c0c0c0"/>
<rect x="384" y="600" width="1" height="73" fill="#c0c0c0"/>
<rect x="392" y="598" width="1" height="75" fill="#c0c0c0"/>
<rect x="400" y="599" width="1" height="74" fill="#c0c0c0"/>
<rect x="408" y="601" width="1" height="72" fill="#c0c0c0"/>
<rect x="416" y="602" width="1" height="71" fill="#c0c0c0"/>
<rect x="424" y="604" width="1" height="69" fill="#c0c0c0"/>
<rect x="432" y="606" width="1" height="67" fill="#c0c0c0"/>
<rect x="440" y="603" width="1" height="70" fill="#c0c0c0"/>
<rect x="448" y="601" width="1" height="72" fill="#c0c0c0"/>
<rect x="456" y="599" width="1" height="74" fill="#c0c0c0"/>
<rect x="464" y="597" width="1" height="76" fill="#c0c0c0"/>
<rect x="472" y="595" width="1" height="78" fill="#c0c0c0"/>
<rect x="480" y="596" width="1" height="77" fill="#c0c0c0"/>
<rect x="488" y="598" width="1" height="75" fill="#c0c0c0"/>
<rect x="496" y="599" width="1" height="74" fill="#c0c0c0"/>
<rect x="504" y="602" width="1" height="71" fill="#c0c0c0"/>
<rect x="512" y="608" width="1" height="65" fill="#c0c0c0"/>
<rect x="520" y="612" width="1" height="61" fill="#c0c0c0"/>
<rect x="528" y="616" width="1" height="57" fill="#c0c0c0"/>
<rect x="536" y="621" width="1" height="52" fill="#c0c0c0"/>
<rect x="544" y="622" width="1" height="51" fill="#c0c0c0"/>
<rect x="552" y="626" width="1" height="47" fill="#c0c0c0"/>
<rect x="560" y="629" width="1" height="44" fill="#c0c0c0"/>
<rect x="568" y="632" width="1" height="41" fill="#c0c0c0"/>
<rect x="576" y="633" width="1" height="40" fill="#c0c0c0"/>
<rect x="584" y="635" width="1" height="38" fill="#c0c0c0"/>
<rect x="592" y="634" width="1" height="39" fill="#c0c0c0"/>
<rect x="600" y="634" width="1" height="39" fill="#c0c0c0"/>
<rect x="608" y="632" width="1" height="41" fill="#c0c0c0"/>
<rect x="616" y="632" width="1" height="41" fill="#c0c0c0"/>
<rect x="624" y="632" width="1" height="41" fill="#c0c0c0"/>
<rect x="632" y="633" width="1" height="40" fill="#c0c0c0"/>
<rect x="640" y="634" width="1" height="39" fill="#c0c0c0"/>
<rect x="648" y="635" width="1" height="38" fill="#c0c0c0"/>
<rect x="656" y="637" width="1" height="36" fill="#c0c0c0"/>
<rect x="664" y="638" width="1" height="35" fill="#c0c0c0"/>
<rect x="672" y="641" width="1" height="32" fill="#c0c0c0"/>
<rect x="680" y="642" width="1" height="31" fill="#c0c0c0"/>
<rect x="688" y="644" width="1" height="29" fill="#c0c0c0"/>
<rect x="696" y="645" width="1" height="28" fill="#c0c0c0"/>
<rect x="704" y="647" width="1" height="26" fill="#c0c0c0"/>
<rect x="712" y="652" width="1" height="21" fill="#c0c0c0"/>
<rect x="720" y="657" width="1" height="16" fill="#c0c0c0"/>
<rect x="728" y="659" width="1" height="14" fill="#c0c0c0"/>
<rect x="736" y="663" width="1" height="10" fill="#c0c0c0"/>
<rect x="744" y="669" width="1" height="4" fill="#c0c0c0"/>
<rect x="752" y="671" width="1" height="2" fill="#c0c0c0"/>
<rect x="760" y="671" width="1" height="2" fill="#c0c0c0"/>
<rect x="768" y="671" width="1" height="2" fill="#c0c0c0"/>
<rect x="776" y="671" width="1" height="2" fill="#c0c0c0"/>
<rect x="784" y="671" width="1" height="2" fill="#c0c0c0"/>
<rect x="792" y="672" width="1" height="3" fill="#c0c0c0"/>
<rect x="800" y="672" width="1" height="8" fill="#c0c0c0"/>
<rect x="808" y="672" width="1" height="14" fill="#c0c0c0"/>
<rect x="816" y="672" width="1" height="18" fill="#c0c0c0"/>
<rect x="824" y="672" width="1" height="21" fill="#c0c0c0"/>
<rect x="832" y="672" width="1" height="28" fill="#c0c0c0"/>
<rect x="840" y="672" width="1" height="31" fill="#c0c0c0"/>
<rect x="848" y="672" width="1" height="31" fill="#c0c0c0"/>
<rect x="856" y="672" width="1" height="33" fill="#c0c0c0"/>
<rect x="864" y="672" width="1" height="33" fill="#c0c0c0"/>
<rect x="872" y="672" width="1" height="31" fill="#c0c0c0"/>
<rect x="880" y="672" width="1" height="32" fill="#c0c0c0"/>
<rect x="888" y="672" width="1" height="36" fill="#c0c0c0"/>
<rect x="896" y="672" width="1" height="49" fill="#c0c0c0"/>
<rect x="904" y="672" width="1" height="54" fill="#c0c0c0"/>
<rect x="912" y="672" width="1" height="56" fill="#c0c0c0"/>
<rect x="920" y="672" width="1" height="60" fill="#c0c0c0"/>
<rect x="928" y="672" width="1" height="63" fill="#c0c0c0"/>
<rect x="936" y="672" width="1" height="64" fill="#c0c0c0"/>
<rect x="944" y="672" width="1" height="64" fill="#c0c0c0"/>
<rect x="952" y="672" width="1" height="61" fill="#c0c0c0"/>
<rect x="960" y="672" width="1" height="57" fill="#c0c0c0"/>
<rect x="968" y="672" width="1" height="57" fill="#c0c0c0"/>
<rect x="976" y="672" width="1" height="52" fill="#c0c0c0"/>
<rect x="984" y="672" width="1" height="47" fill="#c0c0c0"/>
<rect x="992" y="672" width="1" height="42" fill="#c0c0c0"/>
<rect x="1000" y="672" width="1" height="37" fill="#c0c0c0"/>
<rect x="1008" y="672" width="1" height="35" fill="#c0c0c0"/>
<rect x="1016" y="672" width="1" height="33" fill="#c0c0c0"/>
<rect x="1024" y="672" width="1" height="29" fill="#c0c0c0"/>
<rect x="1032" y="672" width="1" height="29" fill="#c0c0c0"/>
<rect x="1040" y="672" width="1" height="29" fill="#c0c0c0"/>
<rect x="1048" y="672" width="1" height="31" fill="#c0c0c0"/>
<rect x="1056" y="672" width="1" height="32" fill="#c0c0c0"/>
<rect x="1064" y="672" width="1" height="33" fill="#c0c0c0"/>
<rect x="1072" y="672" width="1" height="37" fill="#c0c0c0"/>
<rect x="1080" y="672" width="1" height="38" fill="#c0c0c0"/>
<rect x="1088" y="672" width="1" height="36" fill="#c0c0c0"/>
<rect x="1096" y="672" width="1" height="30" fill="#c0c0c0"/>
<rect x="1104" y="672" width="1" height="26" fill="#c0c0c0"/>
<rect x="1112" y="672" width="1" height="24" fill="#c0c0c0"/>
<rect x="1120" y="672" width="1" height="32" fill="#c0c0c0"/>
<rect x="1128" y="672" width="1" height="41" fill="#c0c0c0"/>
<rect x="1136" y="672" width="1" height="46" fill="#c0c0c0"/>
<rect x="1144" y="672" width="1" height="47" fill="#c0c0c0"/>
<rect x="1152" y="672" width="1" height="45" fill="#c0c0c0"/>
<rect x="1160" y="672" width="1" height="45" fill="#c0c0c0"/>
<rect x="1168" y="672" width="1" height="40" fill="#c0c0c0"/>
<rect x="1176" y="672" width="1" height="37" fill="#c0c0c0"/>
<rect x="1184" y="672" width="1" height="35" fill="#c0c0c0"/>
<rect x="1192" y="672" width="1" height="32" fill="#c0c0c0"/>
<rect x="1200" y="672" width="1" height="24" fill="#c0c0c0"/>
<rect x="1208" y="672" width="1" height="16" fill="#c0c0c0"/>
<rect x="1216" y="672" width="1" height="3" fill="#c0c0c0"/>
<rect x="1224" y="663" width="1" height="10" fill="#c0c0c0"/>
<rect x="1232" y="654" width="1" height="19" fill="#c0c0c0"/>
<rect x="1240" y="647" width="1" height="26" fill="#c0c0c0"/>
<rect x="1248" y="644" width="1" height="29" fill="#c0c0c0"/>
<rect x="1256" y="637" width="1" height="36" fill="#c0c0c0"/>
<rect x="1264" y="629" width="1" height="44" fill="#c0c0c0"/>
<rect x="1272" y="621" width="1" height="52" fill="#c0c0c0"/>
<rect x="1280" y="616" width="1" height="57" fill="#c0c0c0"/>
<g><polyline points="0.0,669.2 8.0,672.2 16.0,676.1 24.8,681.7 32.7,686.0 40.6,692.0 49.5,698.9 57.4,704.9 66.4,710.8 74.3,714.8 81.2,718.1 87.2,719.7 93.1,721.7 107.0,723.3 112.9,724.3 145.6,724.7 152.5,727.6 164.4,730.2 174.3,735.2 184.2,736.5 192.2,739.1 200.1,741.1 206.0,742.5 214.0,741.1 223.9,737.5 235.7,731.6 247.6,725.3 259.5,715.7 271.4,708.2 283.3,700.9 295.2,695.5 306.1,691.0 317.0,682.1 325.9,676.5 335.8,668.2 343.8,661.3 351.7,651.4 360.6,642.4 368.5,632.5 377.4,624.2 385.4,618.7 393.3,612.7 401.2,607.2 409.1,603.4 423.0,601.8 458.7,601.2 464.6,599.9 484.4,599.3 498.3,598.5 507.2,598.5 512.2,599.5 524.0,600.5 532.0,603.4 543.8,607.2 555.7,612.1 567.6,617.7 579.5,622.2 589.4,626.6 601.3,629.0 613.2,631.0 627.0,631.6 633.0,632.5 657.8,632.5 675.7,634.5 693.5,636.9 711.3,641.1 725.2,645.4 737.1,649.4 749.0,653.9 760.8,659.3 770.7,662.3 778.7,665.8 784.6,667.2 796.5,670.2 808.4,674.5 820.3,677.5 832.2,682.5 844.0,687.4 855.9,693.0 867.8,697.3 879.7,701.5 887.6,702.9 897.5,706.8 905.4,709.4 917.3,713.8 929.2,718.3 941.1,722.7 953.0,728.0 963.0,731.2 968.9,732.6 989.7,729.2 1001.6,725.3 1013.5,720.3 1025.4,715.2 1037.3,710.8 1047.2,706.2 1063.0,704.5 1120.5,704.5 1132.3,706.2 1144.2,708.2 1156.1,708.4 1166.0,711.2 1177.9,712.2 1185.8,713.8 1193.8,713.4 1203.7,709.8 1213.6,705.8 1223.5,698.3 1233.4,689.0 1245.3,678.1 1257.1,666.2 1269.0,654.3 1277.9,645.4" fill="none" stroke="#ff0000" stroke-width="1" stroke-dasharray="3 3"/></g>
<text x="3.5" y="598" font-family="DejaVu Sans Condensed, Liberation Sans, sans-serif" font-size="9.1" fill="#000" textLength="67.3" lengthAdjust="spacingAndGlyphs">MACD(12,26,9)</text>
<text x="72.6" y="598" font-family="DejaVu Sans Condensed, Liberation Sans, sans-serif" font-size="9.1" fill="#000" >0.2294</text>
<text x="103.7" y="598" font-family="DejaVu Sans Condensed, Liberation Sans, sans-serif" font-size="9.1" fill="#000" >0.1199</text>
<text x="1622.8" y="596" font-family="DejaVu Sans Condensed, Liberation Sans, sans-serif" font-size="9.1" fill="#000" >0.3419</text>
<rect x="1620" y="672" width="2" height="1" fill="#000" />
<text x="1622.8" y="676" font-family="DejaVu Sans Condensed, Liberation Sans, sans-serif" font-size="9.1" fill="#000" >0.00</text>
<text x="1622.8" y="752" font-family="DejaVu Sans Condensed, Liberation Sans, sans-serif" font-size="9.1" fill="#000" >-0.3301</text>
<line x1="1" y1="793.5" x2="1618" y2="793.5" stroke="#c0c0c0" stroke-width="1" stroke-dasharray="3 3"/>
<line x1="1" y1="844.5" x2="1618" y2="844.5" stroke="#c0c0c0" stroke-width="1" stroke-dasharray="3 3"/>
<line x1="1" y1="905.5" x2="1618" y2="905.5" stroke="#c0c0c0" stroke-width="1" stroke-dasharray="3 3"/>
<g transform="translate(0.5,0)"><polyline points="0.0,869.9 8.0,878.8 16.0,887.3 24.0,882.4 32.0,889.3 40.0,890.7 48.0,893.3 56.0,882.4 64.0,883.4 72.0,885.4 80.0,871.5 88.0,871.5 96.0,863.4 104.0,864.6 112.0,888.3 120.0,865.6 128.0,865.6 136.0,879.4 144.0,886.4 152.0,879.4 160.0,879.4 168.0,880.4 176.0,881.4 184.0,875.5 192.0,870.5 200.0,872.3 208.0,853.7 216.0,845.2 224.0,847.5 232.0,844.2 240.0,852.1 248.0,847.5 256.0,836.2 264.0,840.2 272.0,865.4 280.0,847.5 288.0,845.5 296.0,833.3 304.0,837.8 312.0,819.4 320.0,827.3 328.0,823.4 336.0,819.4 344.0,817.4 352.0,815.4 360.0,816.4 368.0,817.4 376.0,816.4 384.0,815.4 392.0,813.5 400.0,817.4 408.0,820.4 416.0,819.4 424.0,816.4 432.0,816.4 440.0,808.5 448.0,805.5 456.0,805.5 464.0,802.6 472.0,800.2 480.0,810.5 488.0,810.5 496.0,807.5 504.0,813.5 512.0,826.3 520.0,823.4 528.0,822.4 536.0,829.3 544.0,821.4 552.0,827.3 560.0,830.7 568.0,827.3 576.0,824.4 584.0,825.7 592.0,815.4 600.0,815.4 608.0,812.5 616.0,810.5 624.0,810.5 632.0,819.4 640.0,818.4 648.0,820.4 656.0,817.0 664.0,817.0 672.0,826.9 680.0,821.4 688.0,826.3 696.0,826.3 704.0,824.4 712.0,851.5 720.0,850.1 728.0,841.6 736.0,855.5 744.0,866.0 752.0,853.1 760.0,842.6 768.0,844.2 776.0,845.5 784.0,853.1 792.0,855.1 800.0,866.0 808.0,874.3 816.0,874.3 824.0,871.3 832.0,885.2 840.0,869.3 848.0,864.6 856.0,870.3 864.0,863.4 872.0,857.4 880.0,866.5 888.0,876.5 896.0,891.3 904.0,873.9 912.0,872.3 920.0,876.8 928.0,877.2 936.0,876.3 944.0,875.3 952.0,869.9 960.0,862.4 968.0,870.9 976.0,854.5 984.0,854.5 992.0,854.1 1000.0,849.5 1008.0,855.1 1016.0,856.4 1024.0,851.7 1032.0,858.4 1040.0,862.0 1048.0,866.9 1056.0,868.3 1064.0,865.4 1072.0,876.3 1080.0,866.9 1088.0,858.4 1096.0,844.2 1104.0,846.1 1112.0,854.1 1120.0,875.9 1128.0,878.2 1136.0,875.3 1144.0,864.4 1152.0,859.6 1160.0,863.0 1168.0,852.5 1176.0,853.5 1184.0,856.4 1192.0,851.7 1200.0,837.2 1208.0,832.9 1216.0,820.4 1224.0,815.4 1232.0,819.4 1240.0,819.4 1248.0,826.3 1256.0,817.4 1264.0,811.5 1272.0,809.5 1280.0,809.5" fill="none" stroke="#1e90ff" stroke-width="1" /></g>
<text x="3.6" y="770" font-family="DejaVu Sans Condensed, Liberation Sans, sans-serif" font-size="9.1" fill="#000" textLength="33.6" lengthAdjust="spacingAndGlyphs">RSI(14)</text>
<text x="39.2" y="770" font-family="DejaVu Sans Condensed, Liberation Sans, sans-serif" font-size="9.1" fill="#000" >70.4987</text>
<text x="1622.3" y="768" font-family="DejaVu Sans Condensed, Liberation Sans, sans-serif" font-size="9.1" fill="#000" >100</text>
<text x="1622.3" y="797" font-family="DejaVu Sans Condensed, Liberation Sans, sans-serif" font-size="9.1" fill="#000" >80</text>
<text x="1622.3" y="848" font-family="DejaVu Sans Condensed, Liberation Sans, sans-serif" font-size="9.1" fill="#000" >50</text>
<text x="1622.3" y="909" font-family="DejaVu Sans Condensed, Liberation Sans, sans-serif" font-size="9.1" fill="#000" >15</text>
<text x="1622.3" y="928" font-family="DejaVu Sans Condensed, Liberation Sans, sans-serif" font-size="9.1" fill="#000" >0</text>
<rect x="0" y="932" width="1" height="3" fill="#000"/>
<text x="-1.6" y="944" font-family="DejaVu Sans Condensed, Liberation Sans, sans-serif" font-size="9.1" fill="#000" >30 Dec 2019</text>
<rect x="64" y="932" width="1" height="3" fill="#000"/>
<text x="62.4" y="944" font-family="DejaVu Sans Condensed, Liberation Sans, sans-serif" font-size="9.1" fill="#000" >31 Dec 16:00</text>
<rect x="128" y="932" width="1" height="3" fill="#000"/>
<text x="126.4" y="944" font-family="DejaVu Sans Condensed, Liberation Sans, sans-serif" font-size="9.1" fill="#000" >2 Jan 20:00</text>
<rect x="192" y="932" width="1" height="3" fill="#000"/>
<text x="190.4" y="944" font-family="DejaVu Sans Condensed, Liberation Sans, sans-serif" font-size="9.1" fill="#000" >6 Jan 04:00</text>
<rect x="256" y="932" width="1" height="3" fill="#000"/>
<text x="254.4" y="944" font-family="DejaVu Sans Condensed, Liberation Sans, sans-serif" font-size="9.1" fill="#000" >7 Jan 12:00</text>
<rect x="320" y="932" width="1" height="3" fill="#000"/>
<text x="318.4" y="944" font-family="DejaVu Sans Condensed, Liberation Sans, sans-serif" font-size="9.1" fill="#000" >8 Jan 20:00</text>
<rect x="384" y="932" width="1" height="3" fill="#000"/>
<text x="382.4" y="944" font-family="DejaVu Sans Condensed, Liberation Sans, sans-serif" font-size="9.1" fill="#000" >10 Jan 04:00</text>
<rect x="448" y="932" width="1" height="3" fill="#000"/>
<text x="446.4" y="944" font-family="DejaVu Sans Condensed, Liberation Sans, sans-serif" font-size="9.1" fill="#000" >13 Jan 12:00</text>
<rect x="512" y="932" width="1" height="3" fill="#000"/>
<text x="510.4" y="944" font-family="DejaVu Sans Condensed, Liberation Sans, sans-serif" font-size="9.1" fill="#000" >14 Jan 20:00</text>
<rect x="576" y="932" width="1" height="3" fill="#000"/>
<text x="574.4" y="944" font-family="DejaVu Sans Condensed, Liberation Sans, sans-serif" font-size="9.1" fill="#000" >16 Jan 04:00</text>
<rect x="640" y="932" width="1" height="3" fill="#000"/>
<text x="638.4" y="944" font-family="DejaVu Sans Condensed, Liberation Sans, sans-serif" font-size="9.1" fill="#000" >17 Jan 12:00</text>
<rect x="704" y="932" width="1" height="3" fill="#000"/>
<text x="702.4" y="944" font-family="DejaVu Sans Condensed, Liberation Sans, sans-serif" font-size="9.1" fill="#000" >20 Jan 20:00</text>
<rect x="768" y="932" width="1" height="3" fill="#000"/>
<text x="766.4" y="944" font-family="DejaVu Sans Condensed, Liberation Sans, sans-serif" font-size="9.1" fill="#000" >22 Jan 04:00</text>
<rect x="832" y="932" width="1" height="3" fill="#000"/>
<text x="830.4" y="944" font-family="DejaVu Sans Condensed, Liberation Sans, sans-serif" font-size="9.1" fill="#000" >23 Jan 12:00</text>
<rect x="896" y="932" width="1" height="3" fill="#000"/>
<text x="894.4" y="944" font-family="DejaVu Sans Condensed, Liberation Sans, sans-serif" font-size="9.1" fill="#000" >26 Jan 23:00</text>
<rect x="960" y="932" width="1" height="3" fill="#000"/>
<text x="958.4" y="944" font-family="DejaVu Sans Condensed, Liberation Sans, sans-serif" font-size="9.1" fill="#000" >28 Jan 04:00</text>
<rect x="1024" y="932" width="1" height="3" fill="#000"/>
<text x="1022.4" y="944" font-family="DejaVu Sans Condensed, Liberation Sans, sans-serif" font-size="9.1" fill="#000" >29 Jan 12:00</text>
<rect x="1088" y="932" width="1" height="3" fill="#000"/>
<text x="1086.4" y="944" font-family="DejaVu Sans Condensed, Liberation Sans, sans-serif" font-size="9.1" fill="#000" >30 Jan 20:00</text>
<rect x="1152" y="932" width="1" height="3" fill="#000"/>
<text x="1150.4" y="944" font-family="DejaVu Sans Condensed, Liberation Sans, sans-serif" font-size="9.1" fill="#000" >3 Feb 04:00</text>
<rect x="1216" y="932" width="1" height="3" fill="#000"/>
<text x="1214.4" y="944" font-family="DejaVu Sans Condensed, Liberation Sans, sans-serif" font-size="9.1" fill="#000" >4 Feb 12:00</text>
<rect x="1280" y="932" width="1" height="3" fill="#000"/>
<text x="1278.4" y="944" font-family="DejaVu Sans Condensed, Liberation Sans, sans-serif" font-size="9.1" fill="#000" >5 Feb 20:00</text>
<polygon points="3,41.5 10.5,41.5 6.75,36.5" fill="#000" shape-rendering="auto"/>
<text x="14.4" y="42" font-family="DejaVu Sans Condensed, Liberation Sans, sans-serif" font-size="9.1" fill="#000" textLength="55.6" lengthAdjust="spacingAndGlyphs">USDJPY-,H4</text>
<text x="74.6" y="42" font-family="DejaVu Sans Condensed, Liberation Sans, sans-serif" font-size="9.1" fill="#000" >109.830</text>
<text x="110.8" y="42" font-family="DejaVu Sans Condensed, Liberation Sans, sans-serif" font-size="9.1" fill="#000" >109.830</text>
<text x="146.6" y="42" font-family="DejaVu Sans Condensed, Liberation Sans, sans-serif" font-size="9.1" fill="#000" >109.791</text>
<text x="182.8" y="42" font-family="DejaVu Sans Condensed, Liberation Sans, sans-serif" font-size="9.1" fill="#000" >109.821</text>
</svg>
<div id="tb"></div><div id="tb1"></div><div id="tb2"></div><div id="tb3"></div>
<div class="sep" style="left:216px"></div>
<div class="sep" style="left:311px"></div>
<div class="sep" style="left:401px"></div>
<div class="sep" style="left:463px"></div>
<div class="sep" style="left:584px"></div>
<div class="sep" style="left:651px"></div>
<div class="sep" style="left:890px"></div>
<div class="sep" style="left:1151px"></div>
<div class="grip" style="left:220px"></div>
<div class="grip" style="left:588px"></div>
<div class="grip" style="left:894px"></div>
<div class="sel" style="left:254px;width:25px"></div>
<div class="sel" style="left:406px;width:25px"></div>
<div class="sel" style="left:434px;width:25px"></div>
<div class="sel" style="left:594px;width:25px"></div>
<div class="sel" style="left:1040px;width:25px"></div>
<div class="cj" style="left:9px">新订单</div>
<div class="cj" style="left:161px">自动交易</div>
<div class="tf" style="left:905.4px">M1</div>
<div class="tf" style="left:933.7px">M5</div>
<div class="tf" style="left:959.6px">M15</div>
<div class="tf" style="left:987.5px">M30</div>
<div class="tf" style="left:1018.6px">H1</div>
<div class="tf" style="left:1045.5px">H4</div>
<div class="tf" style="left:1074.5px">D1</div>
<div class="tf" style="left:1101.9px">W1</div>
<div class="tf" style="left:1128.7px">MN</div>
<div class="dd" style="left:495px"></div>
<div class="dd" style="left:534px"></div>
<div class="dd" style="left:573px"></div>
<div class="dd" style="left:879px"></div>
<svg width="1666" height="28" viewBox="0 0 1666 28" style="position:absolute;left:0;top:0">
<defs>
<linearGradient id="gy" x1="0" y1="0" x2="1" y2="1"><stop offset="0" stop-color="#ffe680"/><stop offset="1" stop-color="#c8900c"/></linearGradient>
<linearGradient id="gb" x1="0" y1="0" x2="0" y2="1"><stop offset="0" stop-color="#6ab4ff"/><stop offset="1" stop-color="#1a5ad0"/></linearGradient>
<linearGradient id="gg" x1="0" y1="0" x2="0" y2="1"><stop offset="0" stop-color="#50e050"/><stop offset="1" stop-color="#109010"/></linearGradient>
<radialGradient id="gz" cx=".4" cy=".4" r=".7"><stop offset="0" stop-color="#f0faff"/><stop offset="1" stop-color="#a8d4f0"/></radialGradient>
</defs>
<!-- new order plus -->
<rect x="-1" y="9" width="4" height="8" fill="#fff" stroke="#888" stroke-width="1"/>
<path d="M-1 16h3v-3.5h3v3.5h1.5v3.5h-1.5v4h-3v-4h-3z" fill="#18b818" stroke="#0a7a0a" stroke-width=".6"/>
<!-- yellow book -->
<path d="M57.2 16 L63.9 7.2 L72.5 14.4 L65.3 21.6 Z" fill="url(#gy)" stroke="#a86c10" stroke-width="1"/>
<path d="M58 17.3 L65.3 22.6 L72.6 15.5" fill="none" stroke="#8a5a10" stroke-width="1"/>
<!-- server + cloud -->
<path d="M87.5 7 L96 6.2 L98 7.5 L98 16 L87.5 16 Z" fill="url(#gb)" stroke="#2a6ad8" stroke-width=".8"/>
<path d="M90.5 8.5v7" stroke="#d8ecff" stroke-width="1.6"/>
<rect x="92.5" y="9.5" width="4" height="2" fill="#e8f4ff"/>
<path d="M86.5 21.3 a3.2 3.2 0 0 1 1 -6 a3.6 3.6 0 0 1 6.6 -1 a2.8 2.8 0 0 1 4.2 1.6 a2.9 2.9 0 0 1 .2 5.4 Z" fill="#e4eefc" stroke="#7c9cd0" stroke-width=".9"/>
<!-- signal -->
<circle cx="121" cy="14" r="7.6" fill="none" stroke="#b8d8c0" stroke-width="1.6"/>
<path d="M121 6.4 a7.6 7.6 0 0 0 0 15.2" fill="none" stroke="#88a8e8" stroke-width="1.6"/>
<circle cx="121" cy="14" r="4.6" fill="none" stroke="#7cc08c" stroke-width="1.6"/>
<path d="M121 9.4 a4.6 4.6 0 0 0 0 9.2" fill="none" stroke="#5080d8" stroke-width="1.6"/>
<circle cx="121" cy="13.6" r="1.8" fill="#3058c8"/>
<path d="M121.6 14 v7.5 l4 -2" fill="none" stroke="#30a840" stroke-width="1.6"/>
<!-- auto trading hat -->
<path d="M141.5 13 L155.5 13 L153 18 L148 21.5 L143 17 Z" fill="#f4d048" stroke="#c89818" stroke-width=".8"/>
<ellipse cx="148.4" cy="11.6" rx="7.4" ry="2.6" fill="#5aa0e0" stroke="#3878c0" stroke-width=".7"/>
<path d="M144 11 a4.4 4.6 0 0 1 8.8 0 Z" fill="#78b8f0" stroke="#3878c0" stroke-width=".7"/>
<circle cx="152.4" cy="17.9" r="4.3" fill="#e02010" stroke="#a81008" stroke-width=".6"/>
<rect x="150.6" y="16.1" width="3.6" height="3.6" fill="#fff"/>
<!-- bar chart icon -->
<g stroke="#555" stroke-width="1.2" fill="none">
<path d="M234.5 9v12.6M232.3 19.7h12.2"/><path d="M232.8 10.6L234.5 7.8L236.2 10.6zM243.70000000000002 18.1L246.3 19.7L243.70000000000002 21.3z" fill="#555" stroke="none"/>
<path d="M262.4 9v12.6M260.2 19.7h12.2"/><path d="M260.7 10.6L262.4 7.8L264.09999999999997 10.6zM271.59999999999997 18.1L274.2 19.7L271.59999999999997 21.3z" fill="#555" stroke="none"/>
<path d="M290.4 9v12.6M288.2 19.7h12.2"/><path d="M288.7 10.6L290.4 7.8L292.09999999999997 10.6zM299.59999999999997 18.1L302.2 19.7L299.59999999999997 21.3z" fill="#555" stroke="none"/>
<path d="M414.4 9v12.6M412.2 19.7h12.2"/><path d="M412.7 10.6L414.4 7.8L416.09999999999997 10.6zM423.59999999999997 18.1L426.2 19.7L423.59999999999997 21.3z" fill="#555" stroke="none"/>
<path d="M442.5 9v12.6M440.3 19.7h12.2"/><path d="M440.8 10.6L442.5 7.8L444.2 10.6zM451.7 18.1L454.3 19.7L451.7 21.3z" fill="#555" stroke="none"/>
</g>
<path d="M238 16.8h2.4V10h2.6" fill="none" stroke="#18a018" stroke-width="1.4"/>
<path d="M268.3 6v12" stroke="#108010" stroke-width="1.2"/>
<rect x="266" y="8.6" width="4.6" height="7.4" fill="#30d030" stroke="#108010" stroke-width=".9"/>
<path d="M289 17 C292 13 294 10.5 295.5 11.2 S299 14.5 300.6 15.2" fill="none" stroke="#18a018" stroke-width="1.3"/>
<path d="M419.2 10.6l3.6 3.1l-3.6 3.1z" fill="#40d040" stroke="#109010" stroke-width=".9"/>
<path d="M448.6 8.2v9.6" stroke="#2070b0" stroke-width="1.3"/>
<path d="M454 13.4h-4M452 11.6l-2.2 1.8l2.2 1.8" fill="none" stroke="#d85010" stroke-width="1.2"/>
<!-- magnifiers -->
<path d="M330.5 16.5l4.8 4.4" stroke="#c8a020" stroke-width="3" stroke-linecap="round"/>
<path d="M330.5 16.5l4.8 4.4" stroke="#f0d868" stroke-width="1.2" stroke-linecap="round"/>
<circle cx="326" cy="12" r="5.6" fill="url(#gz)" stroke="#3a78d0" stroke-width="1.3"/>
<path d="M322.8 12h6.4M326 8.8v6.4" stroke="#3a8ac8" stroke-width="1.7"/>
<path d="M358.4 16.5l4.8 4.4" stroke="#c8a020" stroke-width="3" stroke-linecap="round"/>
<path d="M358.4 16.5l4.8 4.4" stroke="#f0d868" stroke-width="1.2" stroke-linecap="round"/>
<circle cx="353.9" cy="12" r="5.6" fill="url(#gz)" stroke="#3a78d0" stroke-width="1.3"/>
<path d="M350.7 12h6.4" stroke="#3a8ac8" stroke-width="1.7"/>
<!-- tile -->
<rect x="376.2" y="6.2" width="7.8" height="7.6" fill="#3cb03c"/><rect x="384.3" y="6.2" width="7.8" height="7.6" fill="#2a5ae0"/>
<rect x="376.2" y="14" width="7.8" height="7.6" fill="#2a5ae0"/><rect x="384.3" y="14" width="7.8" height="7.6" fill="#3cb03c"/>
<g fill="#eef4ff"><rect x="377.6" y="9" width="5" height="1.3"/><rect x="377.6" y="11" width="5" height="2.2"/><rect x="385.7" y="9" width="5" height="1.3"/><rect x="385.7" y="11" width="5" height="2.2"/>
<rect x="377.6" y="16.8" width="5" height="1.3"/><rect x="377.6" y="18.8" width="5" height="2.2"/><rect x="385.7" y="16.8" width="5" height="1.3"/><rect x="385.7" y="18.8" width="5" height="2.2"/></g>
<!-- indicators -->
<path d="M473.5 6.5h7l4 3.6v9.6h-11z" fill="#fafafa" stroke="#888" stroke-width=".9"/>
<path d="M476 9v9" stroke="#666" stroke-width="1"/>
<path d="M480.6 12.6h4.2v4h4.2v3.6h-4.2v3.6h-4.2v-3.6h-3.6v-3.6h3.6z" fill="#20c020" stroke="#0c8a0c" stroke-width=".7"/>
<!-- clock -->
<circle cx="519" cy="13.5" r="6.6" fill="#f0f6ff" stroke="#1a62cc" stroke-width="2.1"/>
<circle cx="519" cy="13.5" r="7.7" fill="none" stroke="#0a3c98" stroke-width=".5"/>
<path d="M519 10v3.8h2.6" fill="none" stroke="#444" stroke-width="1"/>
<!-- template -->
<rect x="550.5" y="7.3" width="15.4" height="13" fill="#fff" stroke="#2a68d0" stroke-width="1.1"/>
<rect x="551" y="7.8" width="14.4" height="2" fill="#78b0f0"/>
<path d="M550.5 15h15.4" stroke="#2a68d0" stroke-width=".9"/>
<path d="M552 13.4l3-.2l2-1.6l3 .6l3.6-1.6" fill="none" stroke="#b02010" stroke-width="1.2"/>
<path d="M552 18.8l3-.4l2-1.2l2 1l2.4-2l2.4 1.8" fill="none" stroke="#18a028" stroke-width="1.2"/>
<!-- cursor -->
<path d="M602 6.9v11.6l2.9-2.6l2 4.6l2-.9l-2-4.4l3.8-.3z" fill="#444"/>
<!-- crosshair -->
<path d="M634.5 7v5.6M634.5 16.4v5.6M627 14.5h5.6M636.4 14.5h5.6" stroke="#444" stroke-width="1" shape-rendering="crispEdges"/><rect x="634" y="14" width="1" height="1" fill="#666"/>
<!-- lines -->
<path d="M668.5 8.2v12.5" stroke="#444" stroke-width="1.3"/>
<path d="M691 14.5h12" stroke="#444" stroke-width="1.3"/>
<path d="M718.7 20.9L731.2 8.8" stroke="#444" stroke-width="1.2"/>
<path d="M745.1 15.9L757.1 7.2M746 20.2L759 12" stroke="#444" stroke-width="1.1"/>
<path d="M747.5 14.5l1 5M750 12.6l1.3 5.8M752.8 10.6l1.4 5.8M755.6 6.2l1.6 7" stroke="#444" stroke-width=".9"/>
<text x="755.8" y="23" font-family="Liberation Sans, sans-serif" font-weight="bold" font-size="6.4" fill="#333">E</text>
<path d="M774 7.4h13M774 10.8h13M774 14.6h13M774 18.4h9.5" stroke="#444" stroke-width="1" stroke-dasharray="1 1"/>
<text x="783.8" y="23" font-family="Liberation Sans, sans-serif" font-weight="bold" font-size="6.4" fill="#333">F</text>
<text x="804.2" y="18.8" font-family="Liberation Sans, sans-serif" font-size="12.3" fill="#505050">A</text>
<rect x="831.3" y="8.4" width="11" height="12" fill="none" stroke="#444" stroke-width="1" stroke-dasharray="1 1"/>
<path d="M830.4 7.4h2.2" stroke="#333" stroke-width="1.2"/>
<path d="M833.8 11.7h7M837.3 11.7v7" stroke="#555" stroke-width="1.5" fill="none"/>
<path d="M858.4 11l3.2-3l3.2 3l-3.2 1.6z" fill="#444"/>
<path d="M865.4 17.4l3.4-1.4l3.2 1.6l-3.2 3.2z" fill="#444"/>
<path d="M860.8 15.6l2.2 2.2l4.6-5.4" fill="none" stroke="#444" stroke-width="1.3"/>
<!-- search -->
<circle cx="1620.8" cy="11.6" r="3.9" fill="#eaf2ff" stroke="#2a5ad0" stroke-width="1.6"/>
<path d="M1618 14.6l-3.6 4" stroke="#2a5ad0" stroke-width="2.2" stroke-linecap="round"/>
<!-- chat -->
<path d="M1650 7.2h7.4a3.4 3.4 0 0 1 3.4 3.4v.8a3.4 3.4 0 0 1 -3.4 3.4h-.6l.6 2.4l-3-2.4h-4.4a3.4 3.4 0 0 1 -3.4-3.4v-.8a3.4 3.4 0 0 1 3.4-3.4z" fill="#e8eaee" stroke="#909498" stroke-width=".9"/>
<path d="M1643.4 12.2h6a2.8 2.8 0 0 1 2.8 2.8v.4a2.8 2.8 0 0 1 -2.8 2.8h-3.4l-2.6 2.2l.4-2.2h-.4a2.8 2.8 0 0 1 -2.8-2.8v-.4a2.8 2.8 0 0 1 2.8-2.8z" fill="#f6f7f9" stroke="#909498" stroke-width=".9"/>
</svg>

<div id="panel" style="position:absolute;left:1px;top:46px;width:222px;height:69px;background:#fff"></div>
<div style="position:absolute;left:3px;top:50px;width:52px;height:24px;box-sizing:border-box;border:1px solid #0404b4;border-bottom:none;background:linear-gradient(#5656fa,#3a3ae6)"></div>
<div style="position:absolute;left:3px;top:74px;width:109px;height:40px;box-sizing:border-box;border:1px solid #0404b4;border-top:none;background:linear-gradient(#3a3ae6,#1c1cd0 45%,#0303b0 90%,#0000aa)"></div>
<div style="position:absolute;left:55px;top:74px;width:57px;height:1px;background:#0808b8"></div>
<div style="position:absolute;left:170px;top:50px;width:52px;height:24px;box-sizing:border-box;border:1px solid #0404b4;border-bottom:none;background:linear-gradient(#5656fa,#3a3ae6)"></div>
<div style="position:absolute;left:114px;top:74px;width:108px;height:40px;box-sizing:border-box;border:1px solid #0404b4;border-top:none;background:linear-gradient(#3a3ae6,#1c1cd0 45%,#0303b0 90%,#0000aa)"></div>
<div style="position:absolute;left:114px;top:74px;width:57px;height:1px;background:#0808b8"></div>
<div style="position:absolute;left:7px;top:73px;width:44px;height:1px;background:#1010a8"></div>
<div style="position:absolute;left:7px;top:74px;width:44px;height:1px;background:#7c7cff"></div>
<div style="position:absolute;left:174px;top:73px;width:44px;height:1px;background:#1010a8"></div>
<div style="position:absolute;left:174px;top:74px;width:44px;height:1px;background:#7c7cff"></div>
<div class="tp" style="left:15.3px;top:54.5px;font-size:12.3px;line-height:14px;transform:scaleX(.86);transform-origin:0 0">SELL</div>
<div class="tp" style="left:183.3px;top:54.5px;font-size:12.3px;line-height:14px;transform:scaleX(.9);transform-origin:0 0">BUY</div>
<div class="tp" style="left:26.4px;top:94.2px;font-size:12.2px;line-height:14px;font-weight:bold">109</div>
<div class="tp" style="left:136.4px;top:94.2px;font-size:12.2px;line-height:14px;font-weight:bold">109</div>
<div class="tp" style="left:51px;top:72.5px;font-size:34.8px;line-height:40px;transform:scaleX(.885);transform-origin:0 0">82</div>
<div class="tp" style="left:161.8px;top:72.5px;font-size:34.8px;line-height:40px;transform:scaleX(.885);transform-origin:0 0">83</div>
<div class="tp" style="left:89.8px;top:77.6px;font-size:12px;line-height:14px;font-weight:bold">1</div>
<div class="tp" style="left:201px;top:77.6px;font-size:12px;line-height:14px;font-weight:bold">9</div>
<div style="position:absolute;left:57px;top:50px;width:111px;height:22px;box-sizing:border-box;border:1px solid #a8a8a8;background:#fff"></div>
<div style="position:absolute;left:58px;top:51px;width:20px;height:20px;box-sizing:border-box;border:1px solid #fbfbfb;background:linear-gradient(#f2f2f2 0 45%,#d8d8d8 50%,#cfcfcf)"></div>
<div style="position:absolute;left:78px;top:51px;width:1px;height:20px;background:#a8a8a8"></div>
<div style="position:absolute;left:146px;top:51px;width:1px;height:20px;background:#a8a8a8"></div>
<div style="position:absolute;left:147px;top:51px;width:20px;height:20px;box-sizing:border-box;border:1px solid #fbfbfb;background:linear-gradient(#f2f2f2 0 45%,#d8d8d8 50%,#cfcfcf)"></div>
<div style="position:absolute;left:65px;top:59px;width:0;height:0;border-left:3px solid transparent;border-right:3px solid transparent;border-top:3px solid #4a5eb8"></div>
<div style="position:absolute;left:154px;top:59px;width:0;height:0;border-left:3px solid transparent;border-right:3px solid transparent;border-bottom:3px solid #4a5eb8"></div>
<div style="position:absolute;left:100px;top:54.2px;width:43.5px;text-align:right;font-size:12.6px;line-height:14px;color:#000">1.00</div>

</body></html>
